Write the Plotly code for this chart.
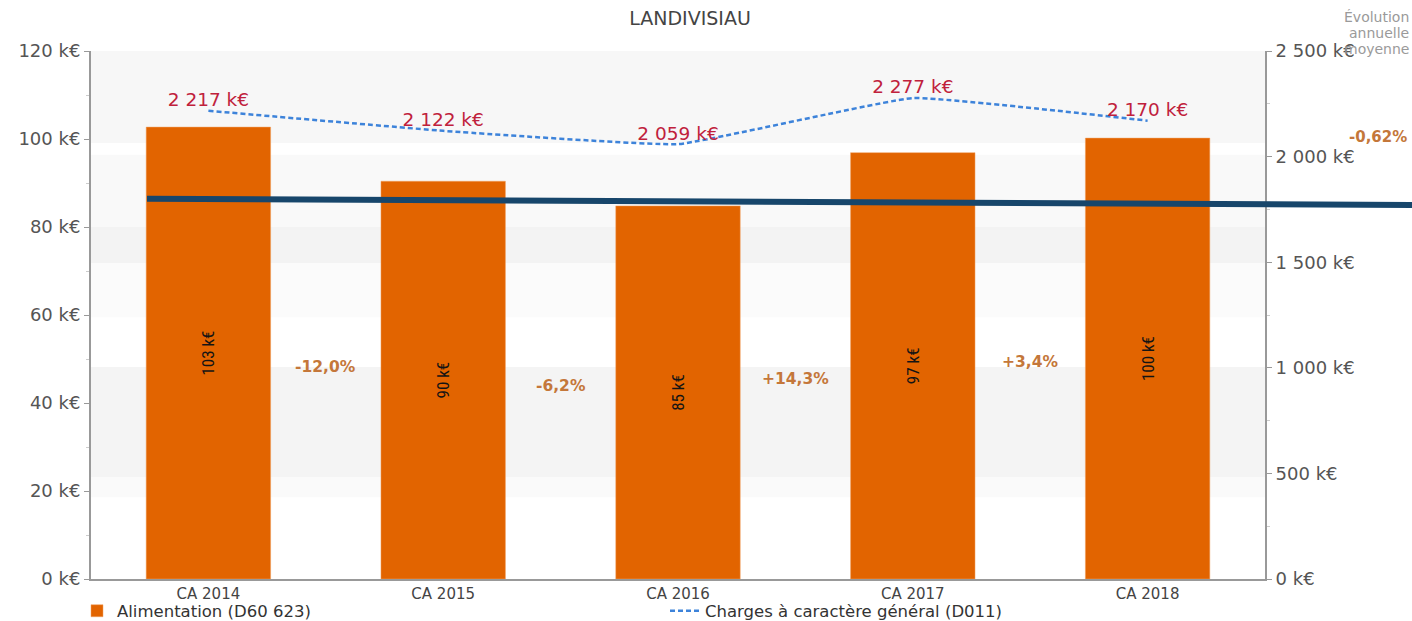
import plotly.graph_objects as go

# --- data -------------------------------------------------------------
categories = ["CA 2014", "CA 2015", "CA 2016", "CA 2017", "CA 2018"]
alimentation = [102.7, 90.4, 84.8, 96.9, 100.2]          # k€, left axis
charges_generales = [2217, 2122, 2059, 2277, 2170]         # k€, right axis
annual_change = [-12.0, -6.2, 14.3, 3.4]                   # % between consecutive years
average_change = -0.62                                     # % average annual change
trend_level = [86.4, 85.0]                                 # k€, reference line (start, end)

left_ticks = [0, 20, 40, 60, 80, 100, 120]
right_ticks = [0, 500, 1000, 1500, 2000, 2500]
side_note = ["Évolution", "annuelle", "moyenne"]

ORANGE = "#e26400"
BLUE = "#3d83da"
RED = "#c0213c"
BROWN = "#c4773a"
FONT = "DejaVu Sans"
NARROW = "Liberation Sans Narrow, Roboto Condensed, Arial Narrow, sans-serif"

W, H = 1412, 621
L, R, T, B = 91, 147, 51, 42
PW, PH = W - L - R, H - T - B


def keur(v):
    s = f"{int(round(v)):,}".replace(",", " ")
    return f"{s} k€"


def pct(v, digits=1, sign=True):
    fmt = f"{{:{'+' if sign else ''}.{digits}f}}%"
    return fmt.format(v).replace(".", ",")


fig = go.Figure()

# bars
fig.add_trace(go.Bar(
    x=categories, y=alimentation, name="Alimentation (D60 623)",
    marker=dict(color=ORANGE, line=dict(color="#f0a060", width=0.5)),
    width=0.53,
    text=[keur(v) for v in alimentation],
    textposition="inside", insidetextanchor="middle", textangle=-90,
    textfont=dict(family=NARROW, size=17, color="#141414"),
    cliponaxis=False, legend="legend",
))

# dashed line on secondary axis
fig.add_trace(go.Scatter(
    x=categories, y=charges_generales, name="Charges à caractère général (D011)",
    mode="lines+text", yaxis="y2",
    line=dict(color=BLUE, width=2.5, dash="5px,3px", shape="spline", smoothing=0.3),
    text=[keur(v) for v in charges_generales], textposition="top center",
    textfont=dict(family=FONT, size=18.5, color=RED),
    cliponaxis=False, legend="legend2",
))

# year-on-year change labels between bars
for i, ch in enumerate(annual_change):
    fig.add_annotation(
        x=i + 0.5, xref="x", y=(alimentation[i] + alimentation[i + 1]) / 4, yref="y",
        text=f"<b>{pct(ch)}</b>", showarrow=False,
        font=dict(family=FONT, size=15.5, color=BROWN),
    )

# average annual change, right margin
fig.add_annotation(
    x=(1409 - L) / PW, xref="paper", xanchor="right", y=2093, yref="y2",
    text=f"<b>{pct(average_change, 2, sign=False)}</b>",
    showarrow=False, font=dict(family=FONT, size=15, color=BROWN),
)
for k, line in enumerate(side_note):
    fig.add_annotation(
        x=(1411 - L) / PW, xref="paper", xanchor="right",
        y=1 + (T - (17 + 16 * k)) / PH, yref="paper", yanchor="middle",
        text=line, showarrow=False,
        font=dict(family=FONT, size=14, color="#9a9a9a"),
    )

# alternating background bands
bands = [(99.1, 120, "#f7f7f7"), (80, 96.4, "#f9f9f9"), (71.8, 80, "#f3f3f3"),
         (59.5, 71.8, "#fbfbfb"), (23.2, 48.2, "#f4f4f4"), (18.6, 23.2, "#fafafa")]
for y0, y1, c in bands:
    fig.add_shape(type="rect", xref="paper", yref="y", x0=0, x1=1, y0=y0, y1=y1,
                  fillcolor=c, line=dict(width=0), layer="below")

# dark reference line across the chart
fig.add_shape(type="line", xref="paper", yref="y",
              x0=(147 - L) / PW, x1=(W - L) / PW,
              y0=trend_level[0], y1=trend_level[1],
              line=dict(color="#17466b", width=6))

axis_font = dict(family=FONT, size=18, color="#555555")
legend_common = dict(orientation="h", xanchor="left",
                     yref="container", y=10 / H, yanchor="middle",
                     font=dict(family=FONT, size=16.5, color="#333333"),
                     bgcolor="rgba(0,0,0,0)", itemwidth=30, borderwidth=0)

fig.update_layout(
    width=W, height=H,
    margin=dict(l=L, r=R, t=T, b=B, autoexpand=False),
    paper_bgcolor="white", plot_bgcolor="white",
    title=dict(text="LANDIVISIAU", x=0.4887, xanchor="center", y=0.97, yanchor="middle",
               font=dict(family=FONT, size=19, color="#444444")),
    showlegend=True,
    legend=dict(x=(77 - L) / PW, **legend_common),
    legend2=dict(x=(665 - L) / PW, **legend_common),
    xaxis=dict(
        type="category", range=[-0.5, 4.5], automargin=False,
        showline=True, linecolor="#999999", linewidth=2,
        ticks="", showgrid=False, zeroline=False,
        tickfont=dict(family=FONT, size=15, color="#444444"),
    ),
    yaxis=dict(
        range=[0, 120], automargin=False,
        tickvals=left_ticks, ticktext=[keur(v) for v in left_ticks],
        showline=True, linecolor="#999999", linewidth=2,
        ticks="outside", ticklen=5, tickcolor="#999999",
        minor=dict(dtick=10, ticks="outside", ticklen=3, tickcolor="#cccccc", showgrid=False),
        showgrid=False, zeroline=False, tickfont=axis_font,
    ),
    yaxis2=dict(
        range=[0, 2500], overlaying="y", side="right", automargin=False,
        tickvals=right_ticks, ticktext=[keur(v) for v in right_ticks],
        showline=True, linecolor="#999999", linewidth=2,
        ticks="outside", ticklen=5, tickcolor="#999999",
        minor=dict(dtick=250, ticks="outside", ticklen=3, tickcolor="#cccccc", showgrid=False),
        showgrid=False, zeroline=False, tickfont=axis_font,
    ),
)

fig.write_html("out.html")
